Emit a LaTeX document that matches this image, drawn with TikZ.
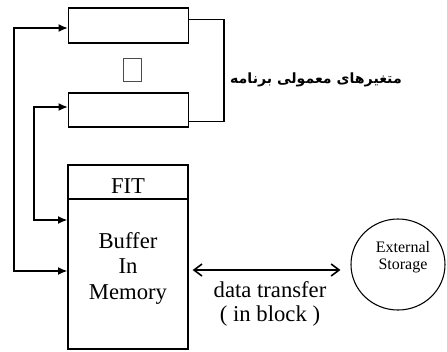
\documentclass[tikz,border=0pt]{standalone}
\usepackage{fontspec}
\setmainfont{Liberation Serif}
\newfontfamily\arabicfont[Script=Arabic]{DejaVu Sans}
\TeXXeTstate=1
\usetikzlibrary{arrows.meta,calc,shapes.geometric}
\tikzset{
  box/.style={draw, line width=1pt, inner sep=0pt, minimum width=90pt},
  conn/.style={line width=1pt, {Latex[length=7pt,width=6pt]}-{Latex[length=7pt,width=6pt]}},
  txt/.style={inner sep=0pt, anchor=base, font=\fontsize{17}{19}\selectfont},
  small/.style={inner sep=0pt, anchor=base, font=\fontsize{12}{13}\selectfont},
}
\begin{document}
\begin{tikzpicture}[x=0.75pt,y=-0.75pt]
\useasboundingbox (0,0) rectangle (447,351);
% variable boxes
\node[box, minimum height=26.25pt] (v1) at (128.5,25.5) {};
\node[box, minimum height=25.5pt] (v2) at (128.5,110) {};
\node[draw=black!70, line width=0.6pt, inner sep=0pt, minimum width=13.5pt, minimum height=17.25pt] (gap) at (132,69.5) {};
% bracket
\draw[line width=1.1pt] ($(v1.north east)+(0,12)$) -- ($(v1.north east)+(35,12)$) -- ($(v2.south east)+(35,-6)$) -- ($(v2.south east)+(0,-6)$);
\node[inner sep=0pt, anchor=base, font=\arabicfont\bfseries\fontsize{10.6}{13}\selectfont] (lab) at (316,83) {\beginR متغیرهای معمولی برنامه\endR};
% FIT + buffer
\node[box, minimum height=25.5pt] (fit) at (128,182) {};
\node[box, minimum height=112.5pt] (buf) at (128,274) {};
\node[txt] (tfit) at (128,193) {FIT};
\node[txt] (tb1) at (128,248) {Buffer};
\node[txt] (tb2) at (128,273.5) {In};
\node[txt] (tb3) at (128,299) {Memory};
% left connectors
\coordinate (c1a) at (14,28);
\coordinate (c1b) at (14,271);
\draw[conn] (v1.west |- c1a) -- (c1a) -- (c1b) -- (buf.west |- c1b);
\coordinate (c2a) at (34,107);
\coordinate (c2b) at (34,220);
\draw[conn] (v2.west |- c2a) -- (c2a) -- (c2b) -- (buf.west |- c2b);
% external storage
\node[draw, ellipse, line width=0.8pt, minimum width=70.5pt, minimum height=68.25pt, inner sep=0pt] (ext) at (398,264.5) {};
\node[small] (te1) at (403,252) {External};
\node[small] (te2) at (403,269) {Storage};
% data transfer
\coordinate (dt) at (0,270);
\draw[line width=1.2pt, {Straight Barb[length=6pt,width=9pt,line width=1.2pt]}-{Straight Barb[length=6pt,width=9pt,line width=1.2pt]}, shorten <=3pt, shorten >=7.5pt] (buf.east |- dt) -- (ext.west |- dt);
\node[txt] (td1) at (270,297) {data transfer};
\node[txt] (td2) at (270,321) {( in block )};
\end{tikzpicture}
\end{document}
